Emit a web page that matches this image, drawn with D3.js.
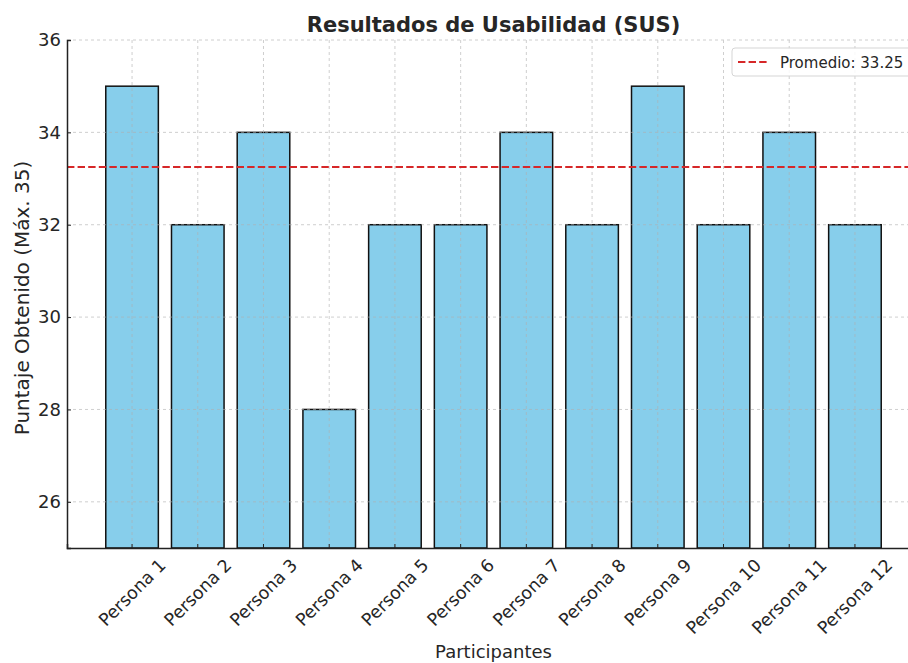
<!DOCTYPE html>
<html>
<head>
<meta charset="utf-8">
<script src="https://cdn.jsdelivr.net/npm/d3@7"></script>
<style>
  body { margin: 0; background: #fff; }
  text { font-family: "DejaVu Sans", sans-serif; fill: #262626; }
</style>
</head>
<body>
<div id="viz"></div>
<script>
// chart data
var participantes = ["Persona 1", "Persona 2", "Persona 3", "Persona 4", "Persona 5", "Persona 6",
                     "Persona 7", "Persona 8", "Persona 9", "Persona 10", "Persona 11", "Persona 12"];
var puntajes = [35, 32, 34, 28, 32, 32, 34, 32, 35, 32, 34, 32];
var promedio = 33.25;
var yTicks = [26, 28, 30, 32, 34, 36];

var w = 908, h = 663;
var mLeft = 67, mRight = 920, mTop = 40, mBottom = 548;

var svg = d3.select("#viz")
	.append("svg")
	.attr("width", w)
	.attr("height", h);

var x = d3.scaleBand()
	.domain(participantes)
	.range([mLeft, mRight])
	.paddingInner(0.2)
	.paddingOuter(0.59);

var y = d3.scaleLinear()
	.domain([25, 36])
	.range([mBottom, mTop]);

// bars
svg.append("g")
	.selectAll("rect")
	.data(puntajes)
	.enter().append("rect")
		.attr("x", function(d, i){ return x(participantes[i]); })
		.attr("y", function(d){ return y(d); })
		.attr("width", x.bandwidth())
		.attr("height", function(d){ return mBottom - y(d); })
		.style("fill", "#87ceeb")
		.style("stroke", "#111")
		.style("stroke-width", 1.5);

// grid on top, faint
var grid = svg.append("g").style("stroke", "#b0b0b0").style("stroke-dasharray", "3,3").style("opacity", 0.6);
grid.selectAll("line.gy")
	.data(yTicks)
	.enter().append("line")
		.attr("x1", mLeft).attr("x2", mRight)
		.attr("y1", function(d){ return y(d); })
		.attr("y2", function(d){ return y(d); });
grid.selectAll("line.gx")
	.data(participantes)
	.enter().append("line")
		.attr("x1", function(d){ return x(d) + x.bandwidth() / 2; })
		.attr("x2", function(d){ return x(d) + x.bandwidth() / 2; })
		.attr("y1", mTop).attr("y2", mBottom);

// mean line
svg.append("line")
	.attr("x1", mLeft).attr("x2", mRight)
	.attr("y1", y(promedio)).attr("y2", y(promedio))
	.style("stroke", "#d62728")
	.style("stroke-width", 2)
	.style("stroke-dasharray", "7.4,3.2");

// axes
var yAxis = svg.append("g")
	.attr("transform", "translate(" + mLeft + ",0)")
	.call(d3.axisLeft(y).tickValues(yTicks).tickSize(-4).tickPadding(6));
var xAxis = svg.append("g")
	.attr("transform", "translate(0," + mBottom + ")")
	.call(d3.axisBottom(x).tickSize(-4).tickPadding(8));

[yAxis, xAxis].forEach(function(a){
	a.select(".domain").style("stroke", "#222").style("stroke-width", 1.5);
	a.selectAll(".tick line").style("stroke", "#222").style("stroke-width", 1);
});
yAxis.selectAll("text").style("font-size", "18px").style("fill", "#262626");

// rotated labels, bounding box centred under the tick (matplotlib style)
xAxis.selectAll(".tick text")
	.style("font-size", "17.5px")
	.style("fill", "#262626")
	.attr("text-anchor", "middle")
	.attr("y", 0)
	.attr("dy", "0.35em")
	.attr("transform", function(){
		var tw = this.getComputedTextLength();
		var th = 17;
		var half = (tw + th) / (2 * Math.SQRT2);
		return "translate(0," + (8 + half) + ") rotate(-45)";
	});

// titles
svg.append("text")
	.attr("x", (mLeft + mRight) / 2)
	.attr("y", 32)
	.attr("text-anchor", "middle")
	.style("font-size", "21px")
	.style("font-weight", "bold")
	.text("Resultados de Usabilidad (SUS)");

svg.append("text")
	.attr("x", (mLeft + mRight) / 2)
	.attr("y", 658)
	.attr("text-anchor", "middle")
	.style("font-size", "18px")
	.text("Participantes");

svg.append("text")
	.attr("transform", "translate(29,298) rotate(-90)")
	.attr("text-anchor", "middle")
	.style("font-size", "20px")
	.text("Puntaje Obtenido (Máx. 35)");

// legend
var lg = svg.append("g").attr("transform", "translate(732,48)");
lg.append("rect")
	.attr("width", 200).attr("height", 28)
	.attr("rx", 3)
	.style("fill", "#fff").style("fill-opacity", 0.85)
	.style("stroke", "#d5d5d5");
lg.append("line")
	.attr("x1", 6).attr("x2", 37).attr("y1", 14).attr("y2", 14)
	.style("stroke", "#d62728").style("stroke-width", 2)
	.style("stroke-dasharray", "7.4,3.2");
lg.append("text")
	.attr("x", 48).attr("y", 19.5)
	.style("font-size", "15px")
	.text("Promedio: " + promedio);
</script>
</body>
</html>
